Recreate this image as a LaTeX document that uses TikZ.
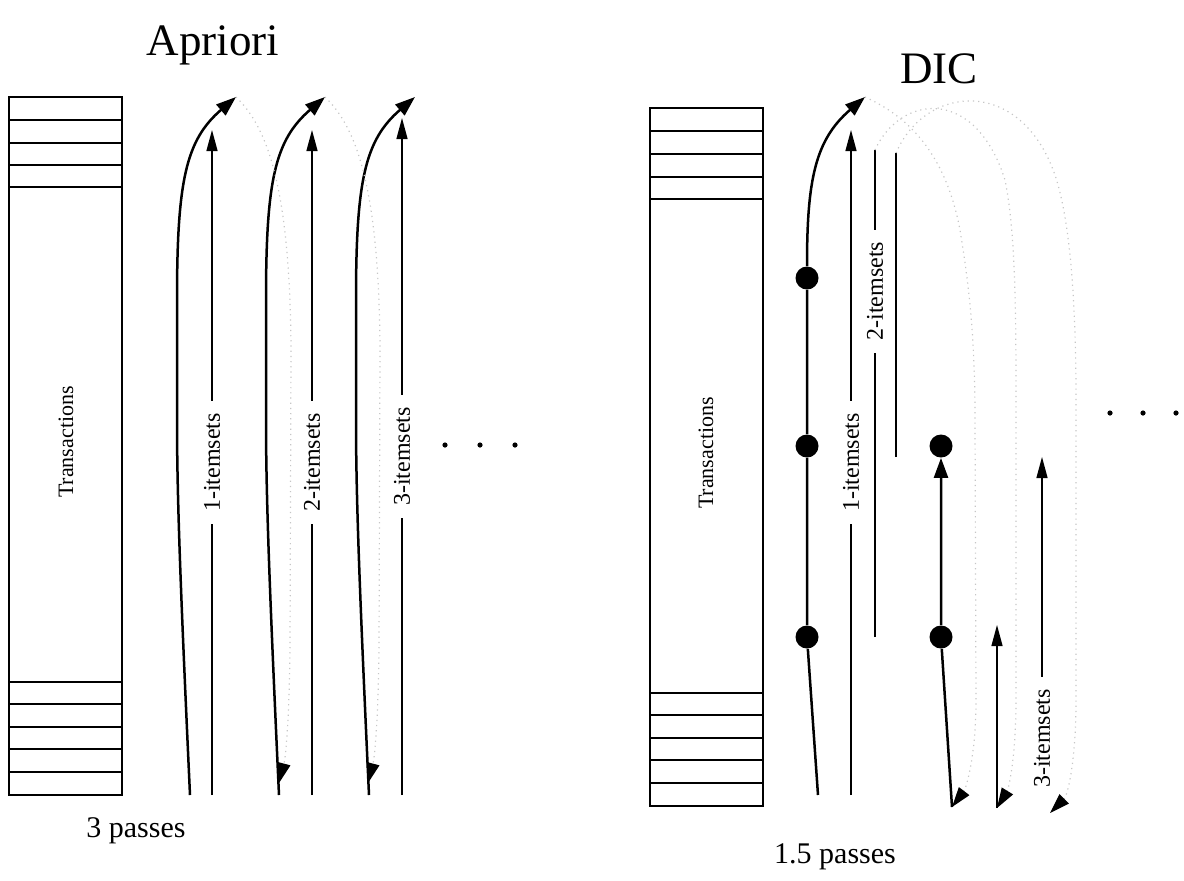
\documentclass[tikz,border=0pt]{standalone}
\usepackage{fontspec}
\setmainfont{Liberation Serif}
\usetikzlibrary{arrows.meta}

\begin{document}
\begin{tikzpicture}[x=0.5pt,y=-0.5pt,
    boxline/.style={line width=1pt},
    stripe/.style={line width=0.6pt},
    thinline/.style={line width=0.65pt},
    thinarrow/.style={thinline,-{Triangle[length=10.5pt,width=5.5pt]}},
    thickpass/.style={line width=1.25pt,-{Triangle[length=10pt,width=7pt]}},
    rewind/.style={gray!45,dotted,line width=0.6pt,-{Triangle[length=10pt,width=6.5pt,color=black]}},
    ckpt/.style={circle,fill=black,inner sep=0pt,minimum size=11.5pt},
    itemlab/.style={sloped,fill=white,inner xsep=6pt,inner ysep=1pt,font=\fontsize{12}{14}\selectfont},
    translab/.style={rotate=90,font=\fontsize{11}{13}\selectfont},
    title/.style={font=\fontsize{22.5}{27}\selectfont},
    passes/.style={font=\fontsize{15}{18}\selectfont}]
\useasboundingbox (0,0) rectangle (1184,880);

% Apriori
\node[title] (apriori) at (213,45) {Apriori};
\draw[boxline] (9,97) rectangle (122,795);
\foreach \y in {120,143,165,187,682,704,727,749,772}
  \draw[stripe] (9,\y) -- (122,\y);
\node[translab] (trans) at (66,442) {Transactions};

\foreach \n/\s in {1/0,2/89,3/179} {
  \coordinate (abot\n) at (190+\s,795);
  \coordinate (atop\n) at (236+\s,97);
  \draw[thickpass] (abot\n) .. controls (181+\s,600) and (177+\s,500) .. (177+\s,420)
    -- (177+\s,300) .. controls (177+\s,180) and (186+\s,140) .. (atop\n);
}
\foreach \n/\s in {1/0,2/89} {
  \draw[rewind] (atop\n) .. controls (265+\s,125) and (290+\s,180) .. (291+\s,350)
    -- (290+\s,650) .. controls (289+\s,730) and (285+\s,760) .. (279+\s,783);
}
\draw[thinarrow] (212,795) -- node[itemlab] {1-itemsets} (212,130);
\draw[thinarrow] (312,795) -- node[itemlab] {2-itemsets} (312,130);
\draw[thinarrow] (402,795) -- node[itemlab] {3-itemsets} (402,118);
\foreach \x in {445,480,515}
  \fill (\x,445) circle (2.6);
\node[passes] (apasses) at (136,831) {3 passes};

% DIC
\node[title] (dic) at (939,69) {DIC};
\draw[boxline] (650,108) rectangle (763,806);
\foreach \y in {131,154,177,199,693,715,738,760,783}
  \draw[stripe] (650,\y) -- (763,\y);
\node[translab] (trans2) at (706,453) {Transactions};

\node[ckpt] (c1) at (807,637) {};
\node[ckpt] (c2) at (807,446) {};
\node[ckpt] (c3) at (807,278) {};
\node[ckpt] (d1) at (941,637) {};
\node[ckpt] (d2) at (941,446) {};
\coordinate (dtop) at (865,97);

\draw[thickpass] (818,795) -- (c1) -- (c2) -- (c3)
  .. controls (807,180) and (815,140) .. (dtop);
\draw[rewind] (dtop) .. controls (905,115) and (945,150) .. (960,230)
  .. controls (968,280) and (975,330) .. (975,420) -- (976,700)
  .. controls (976,760) and (965,790) .. (952,807);
\draw[thickpass] (952,807) -- (d1) -- (d2);

\draw[thinarrow] (851,795) -- node[itemlab] {1-itemsets} (851,130);

\draw[thinline] (875,637) -- node[itemlab,pos=0.71] {2-itemsets} (875,150);
\draw[rewind] (875,150) .. controls (900,95) and (975,85) .. (1005,180)
  .. controls (1015,230) and (1016,300) .. (1016,400) -- (1016,700)
  .. controls (1016,760) and (1008,790) .. (997,808);
\draw[thinarrow] (997,808) -- (997,625);

\draw[thinline] (896,457) -- (896,153);
\draw[rewind] (896,153) .. controls (925,85) and (1020,75) .. (1055,175)
  .. controls (1070,220) and (1076,300) .. (1076,400) -- (1076,700)
  .. controls (1076,760) and (1068,795) .. (1050,813);
\draw[thinarrow] (1042,792) -- node[itemlab,pos=0.16] {3-itemsets} (1042,457);

\foreach \x in {1110,1143,1176}
  \fill (\x,413) circle (2.6);
\node[passes] (dpasses) at (835,857) {1.5 passes};
\end{tikzpicture}
\end{document}
